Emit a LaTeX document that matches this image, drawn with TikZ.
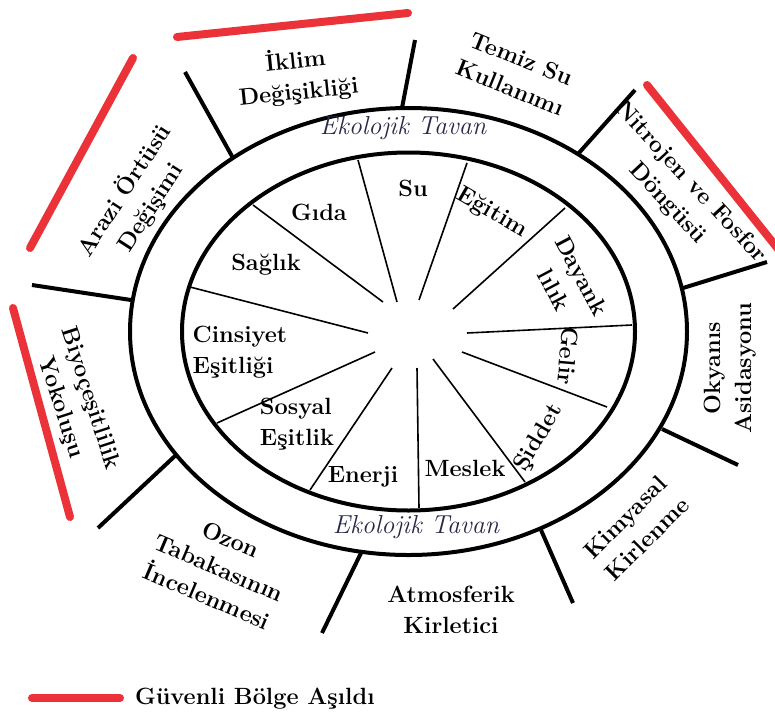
\documentclass[tikz,border=0pt]{standalone}
\usepackage{fontspec}
\usepackage{tikz}

\definecolor{asildi}{RGB}{234,50,56}
\definecolor{tavan}{RGB}{40,40,72}

\begin{document}
\begin{tikzpicture}[x=1pt,y=-1pt,line width=4pt,
                    font=\bfseries\fontsize{23.5}{31}\selectfont]

  \tikzstyle{lbl}=[align=center,inner sep=0pt]
  \tikzstyle{spoke}=[line width=1.6pt]
  \tikzstyle{bound}=[line width=8pt,asildi,line cap=round]
  \tikzstyle{ceiling}=[inner sep=0pt,text=tavan,
                       font=\itshape\fontsize{26}{30}\selectfont]

  \useasboundingbox (0,0) rectangle (775,712);

  % ellipses
  \coordinate (C) at (408.5,331.5);
  \draw (C) ellipse [x radius=278.5,y radius=223.5];
  \draw (C) ellipse [x radius=226.5,y radius=179];

  % inner spokes
  \draw[spoke] (358,160) -- (397,302)
               (467,163) -- (419,300)
               (565,208) -- (453,309)
               (632,325) -- (467,333)
               (607,407) -- (462,352)
               (525,482) -- (433,359)
               (419,508) -- (417,368)
               (310,490) -- (392,368)
               (217,423) -- (375,352)
               (190,287) -- (368,333)
               (253,205) -- (383,302);

  % outer dividers
  \draw (233,158) -- (185,72)
        (402,108) -- (415,40)
        (578,154) -- (635,90)
        (683,288) -- (767,262)
        (662,429) -- (738,465)
        (541,530) -- (573,603)
        (361,553) -- (322,633)
        (176,455) -- (98,528)
        (131,300) -- (32,285);

  % boundary exceeded
  \draw[bound] (177,37) -- (408,13);
  \draw[bound] (133,58) -- (30,248);
  \draw[bound] (13,308) -- (70,517);
  \draw[bound] (647,85) -- (790,264);
  \draw[bound] (32,698) -- (120,698);

  \node[ceiling] (tavanust) at (403,128) {Ekolojik Tavan};
  \node[ceiling] (tavanalt) at (416,527) {Ekolojik Tavan};

  \node[lbl]             (su)       at (413,188) {Su};
  \node[lbl]             (gida)     at (319,212) {Gıda};
  \node[lbl,rotate=-30]  (egitim)   at (492,213) {Eğitim};
  \node[lbl]             (saglik)   at (266,265) {Sağlık};
  \node[lbl,rotate=-62]  (dayanik)  at (568,283) {Dayank\\lılık};
  \node[lbl,rotate=-95]  (gelir)    at (568,356) {Gelir};
  \node[lbl,rotate=60]   (siddet)   at (539,438) {Şiddet};
  \node[lbl]             (meslek)   at (465,468) {Meslek};
  \node[lbl]             (enerji)   at (363,477) {Enerji};
  \node[lbl,align=left]  (sosyal)   at (297,424) {Sosyal\\Eşitlik};
  \node[lbl,align=left]  (cinsiyet) at (240,352) {Cinsiyet\\Eşitliği};

  \node[lbl,rotate=6]    (iklim)    at (297,76)  {İklim\\Değişikliği};
  \node[lbl,rotate=-22]  (temizsu)  at (516,73)  {Temiz Su\\Kullanımı};
  \node[lbl,rotate=-47]  (nitrojen) at (679,193) {Nitrojen ve Fosfor\\Döngüsü};
  \node[lbl,rotate=90]   (okyanus)  at (730,368) {Okyanıs\\Asidasyonu};
  \node[lbl,rotate=45]   (kimyasal) at (636,528) {Kimyasal\\Kirlenme};
  \node[lbl]             (atmosfer) at (451,610) {Atmosferik\\Kirletici};
  \node[lbl,rotate=-23]  (ozon)     at (219,568) {Ozon\\Tabakasının\\İncelenmesi};
  \node[lbl,rotate=-72]  (biyo)     at (75,403)  {Biyoçeşitlilik\\Yokoluşu};
  \node[lbl,rotate=57]   (arazi)    at (137,199) {Arazi Örtüsü\\Değişimi};

  \node[lbl,anchor=west] (legend)   at (133,699) {Güvenli Bölge Aşıldı};
\end{tikzpicture}
\end{document}
